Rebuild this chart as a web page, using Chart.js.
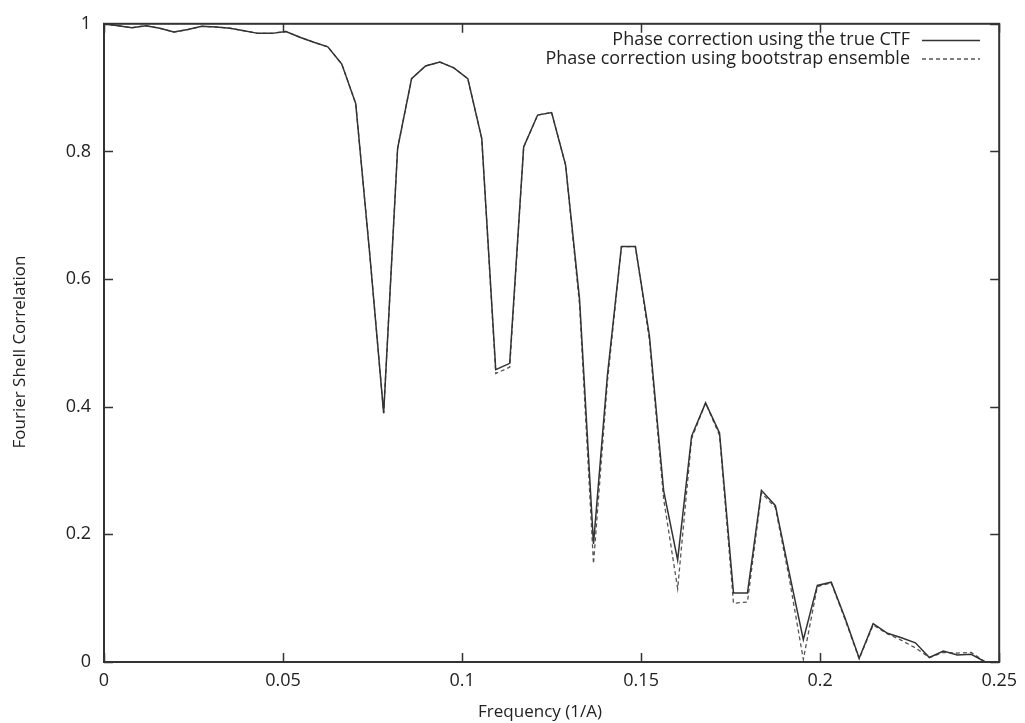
<!DOCTYPE html>
<html>
<head>
<meta charset="utf-8">
<script src="https://cdn.jsdelivr.net/npm/chart.js@4.4.1/dist/chart.umd.min.js"></script>
<style>
  html, body { margin: 0; padding: 0; background: #fff; }
  #wrap { width: 1025px; height: 723px; }
</style>
</head>
<body>
<div id="wrap"><canvas id="fsc" width="1025" height="723"></canvas></div>
<script>
// spatial frequency (1/A), one shell per point
const freq = [0, 0.0039, 0.0078, 0.0117, 0.0156, 0.0195, 0.0234, 0.0273, 0.0313, 0.0352,
  0.0391, 0.043, 0.0469, 0.0508, 0.0547, 0.0586, 0.0625, 0.0664, 0.0703, 0.0742,
  0.0781, 0.082, 0.0859, 0.0898, 0.0938, 0.0977, 0.1016, 0.1055, 0.1094, 0.1133,
  0.1172, 0.1211, 0.125, 0.1289, 0.1328, 0.1367, 0.1406, 0.1445, 0.1484, 0.1523,
  0.1563, 0.1602, 0.1641, 0.168, 0.1719, 0.1758, 0.1797, 0.1836, 0.1875, 0.1914,
  0.1953, 0.1992, 0.2031, 0.207, 0.2109, 0.2148, 0.2188, 0.2227, 0.2266, 0.2305,
  0.2344, 0.2383, 0.2422, 0.2461];

// FSC, phase correction with the true CTF
const fscTrue = [1.0, 0.997, 0.994, 0.997, 0.993, 0.987, 0.991, 0.996, 0.995, 0.993,
  0.989, 0.985, 0.985, 0.988, 0.979, 0.971, 0.964, 0.937, 0.875, 0.64,
  0.39, 0.805, 0.914, 0.934, 0.94, 0.931, 0.914, 0.82, 0.458, 0.468,
  0.807, 0.857, 0.861, 0.779, 0.569, 0.185, 0.45, 0.651, 0.651, 0.512,
  0.268, 0.16, 0.354, 0.406, 0.359, 0.108, 0.108, 0.269, 0.245, 0.139,
  0.035, 0.12, 0.125, 0.068, 0.006, 0.06, 0.045, 0.038, 0.03, 0.007,
  0.017, 0.011, 0.012, 0.0];

// FSC, phase correction with the bootstrap ensemble
const fscBoot = [1.0, 0.997, 0.994, 0.997, 0.993, 0.987, 0.991, 0.996, 0.995, 0.993,
  0.989, 0.985, 0.985, 0.988, 0.979, 0.971, 0.964, 0.937, 0.875, 0.64,
  0.39, 0.805, 0.914, 0.934, 0.94, 0.931, 0.914, 0.82, 0.452, 0.462,
  0.807, 0.857, 0.861, 0.779, 0.56, 0.154, 0.44, 0.651, 0.651, 0.505,
  0.255, 0.115, 0.35, 0.406, 0.355, 0.092, 0.094, 0.265, 0.242, 0.13,
  0.004, 0.118, 0.124, 0.066, 0.005, 0.058, 0.044, 0.034, 0.022, 0.007,
  0.015, 0.014, 0.015, 0.0];

const seriesNames = ['Phase correction using the true CTF', 'Phase correction using bootstrap ensemble'];
const xTicks = [0, 0.05, 0.1, 0.15, 0.2, 0.25];
const yTicks = [0, 0.2, 0.4, 0.6, 0.8, 1];
const xTitle = 'Frequency (1/A)';
const yTitle = 'Fourier Shell Correlation';

const FONT = { family: '"Open Sans", "Noto Sans", sans-serif', size: 18 };
const INK = '#222';

function pts(ys) {
  return freq.map((f, i) => ({ x: f, y: ys[i] }));
}

// gnuplot style frame with inward ticks on all four sides
const framePlugin = {
  id: 'frame',
  afterDatasetsDraw(chart) {
    const { ctx, chartArea: a, scales } = chart;
    ctx.save();
    ctx.strokeStyle = '#333';
    ctx.lineWidth = 1.5;
    ctx.beginPath();
    xTicks.forEach(v => {
      const px = Math.round(scales.x.getPixelForValue(v)) + 0.5;
      ctx.moveTo(px, a.bottom); ctx.lineTo(px, a.bottom - 9);
      ctx.moveTo(px, a.top); ctx.lineTo(px, a.top + 9);
    });
    yTicks.forEach(v => {
      const py = Math.round(scales.y.getPixelForValue(v)) + 0.5;
      ctx.moveTo(a.left, py); ctx.lineTo(a.left + 9, py);
      ctx.moveTo(a.right, py); ctx.lineTo(a.right - 9, py);
    });
    ctx.stroke();
    ctx.lineWidth = 2;
    ctx.strokeRect(a.left, a.top, a.right - a.left, a.bottom - a.top);
    ctx.restore();
  }
};

// key in the top right corner (text, then sample line) and the axis titles
const keyPlugin = {
  id: 'key',
  afterDraw(chart) {
    const { ctx } = chart;
    ctx.save();
    ctx.font = FONT.size + 'px ' + FONT.family;
    ctx.fillStyle = INK;
    ctx.textAlign = 'right';
    ctx.textBaseline = 'middle';
    chart.data.datasets.forEach((ds, i) => {
      const y = 40 + i * 18.5;
      ctx.fillText(ds.label, 910, y);
      ctx.strokeStyle = ds.borderColor;
      ctx.lineWidth = ds.borderWidth;
      ctx.setLineDash(ds.borderDash || []);
      ctx.beginPath();
      ctx.moveTo(922, y + 0.5);
      ctx.lineTo(980, y + 0.5);
      ctx.stroke();
    });
    ctx.setLineDash([]);
    ctx.textAlign = 'center';
    ctx.font = '17px ' + FONT.family;
    ctx.fillText(xTitle, 540, 712);
    ctx.translate(20, 352);
    ctx.rotate(-Math.PI / 2);
    ctx.fillText(yTitle, 0, 0);
    ctx.restore();
  }
};

new Chart(document.getElementById('fsc').getContext('2d'), {
  type: 'line',
  data: {
    datasets: [
      {
        label: seriesNames[0],
        data: pts(fscTrue),
        borderColor: '#333',
        borderWidth: 1.5,
        pointRadius: 0,
        tension: 0
      },
      {
        label: seriesNames[1],
        data: pts(fscBoot),
        borderColor: '#555',
        borderWidth: 1.3,
        borderDash: [4, 3],
        pointRadius: 0,
        tension: 0
      }
    ]
  },
  options: {
    responsive: false,
    animation: false,
    layout: { padding: { top: 19, right: 21, left: 0, bottom: 0 } },
    plugins: {
      legend: { display: false },
      tooltip: { enabled: false }
    },
    scales: {
      x: {
        type: 'linear',
        min: 0,
        max: 0.25,
        afterFit(s) { s.height = 61; },
        afterBuildTicks(s) { s.ticks = xTicks.map(v => ({ value: v })); },
        ticks: {
          font: FONT,
          color: INK,
          padding: 8,
          maxRotation: 0,
          callback: v => String(+v.toFixed(2))
        },
        grid: { display: false, drawTicks: false },
        border: { display: false }
      },
      y: {
        min: 0,
        max: 1,
        afterFit(s) { s.width = 104; },
        afterBuildTicks(s) { s.ticks = yTicks.map(v => ({ value: v })); },
        ticks: {
          font: FONT,
          color: INK,
          padding: 13,
          callback: v => String(+v.toFixed(1))
        },
        grid: { display: false, drawTicks: false },
        border: { display: false }
      }
    }
  },
  plugins: [framePlugin, keyPlugin]
});
</script>
</body>
</html>
